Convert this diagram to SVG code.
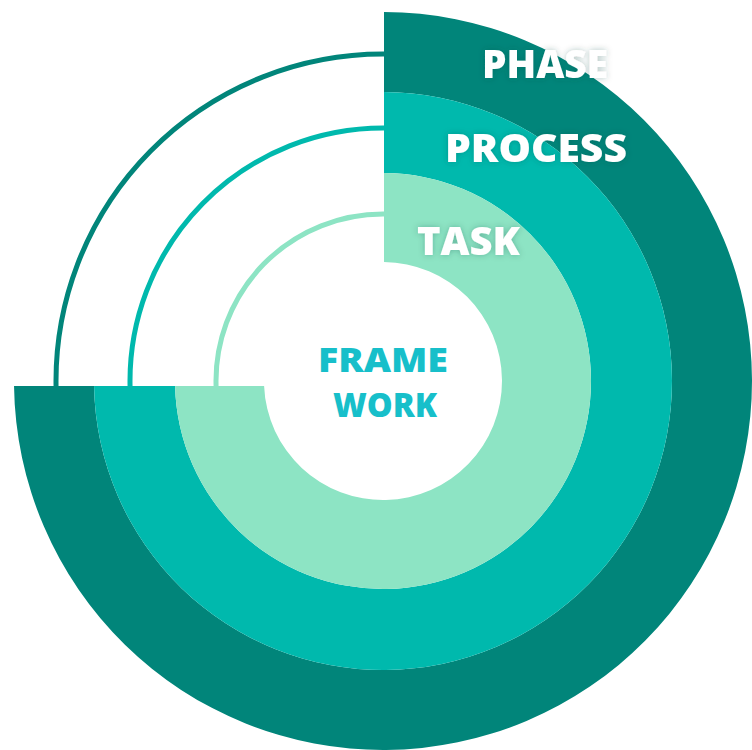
<svg xmlns="http://www.w3.org/2000/svg" width="752" height="750" viewBox="0 0 752 750">
  <style>
    .lbl { font-family: "Open Sans", "Liberation Sans", sans-serif; font-weight: 800; font-size: 39px; fill: #ffffff; text-anchor: middle; filter: url(#glow); }
    .core { font-family: "Open Sans", "Liberation Sans", sans-serif; font-weight: 800; font-size: 33px; fill: #17bfca; text-anchor: middle; }
    .thin { fill: none; stroke-width: 5; }
  </style>
  <defs>
    <filter id="glow" x="-20%" y="-40%" width="140%" height="180%">
      <feGaussianBlur in="SourceAlpha" stdDeviation="3" result="b"/>
      <feFlood flood-color="#03443e" flood-opacity="0.3"/>
      <feComposite in2="b" operator="in" result="s"/>
      <feMerge><feMergeNode in="s"/><feMergeNode in="SourceGraphic"/></feMerge>
    </filter>
  </defs>
  <rect width="752" height="750" fill="#ffffff"/>

  <g id="phase">
    <path d="M384,12 A369,369 0 1 1 14.03,386 L94.04,386 A289,289 0 1 0 384,92 Z" fill="#01857a"/>
    <text class="lbl" x="545" y="78" textLength="126" lengthAdjust="spacingAndGlyphs">PHASE</text>
  </g>
  <g id="process">
    <path d="M384,92 A289,289 0 1 1 94.04,386 L175.06,386 A208,208 0 1 0 384,173 Z" fill="#00b9ad"/>
    <text class="lbl" x="536" y="162" textLength="182" lengthAdjust="spacingAndGlyphs">PROCESS</text>
  </g>
  <g id="task">
    <path d="M384,173 A208,208 0 1 1 175.06,386 L264.1,386 A119,119 0 1 0 384,262 Z" fill="#8de4c4"/>
    <text class="lbl" x="468.5" y="255" textLength="103" lengthAdjust="spacingAndGlyphs">TASK</text>
  </g>
  <g id="framework">
    <text class="core" x="383" y="372" textLength="130" lengthAdjust="spacingAndGlyphs">FRAME</text>
    <text class="core" x="385" y="417" textLength="104" lengthAdjust="spacingAndGlyphs">WORK</text>
  </g>

  <g id="connectors">
    <path class="thin" d="M384,54 A327,327 0 0 0 56.04,386" stroke="#01857a"/>
    <path class="thin" d="M384,128 A253,253 0 0 0 130.05,386" stroke="#00b9ad"/>
    <path class="thin" d="M384,214 A167,167 0 0 0 216.07,386" stroke="#8de4c4"/>
  </g>
</svg>
